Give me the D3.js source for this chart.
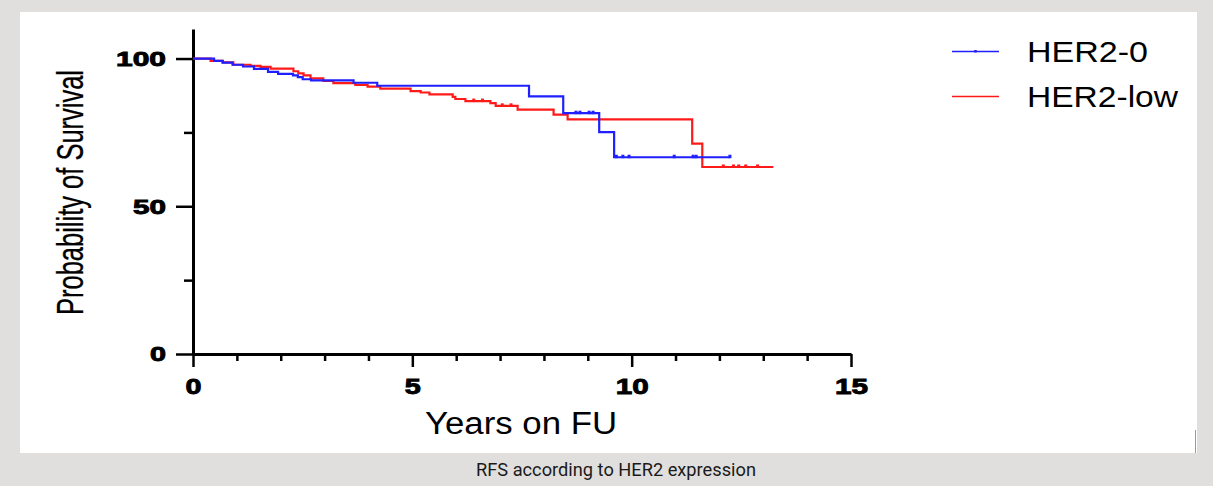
<!DOCTYPE html>
<html>
<head>
<meta charset="utf-8">
<script src="https://cdn.jsdelivr.net/npm/d3@7"></script>
<style>
  html, body { margin: 0; padding: 0; background: #e0dfdd; }
  svg { display: block; }
</style>
</head>
<body>
<svg id="chart" width="1213" height="486"></svg>
<script>
// Kaplan-Meier relapse-free survival, HER2-0 vs HER2-low
const her2zeroTimes = [0, 0.48, 0.68, 0.9, 1.14, 1.39, 1.71, 1.94, 2.28, 2.39, 2.5, 2.69, 3.66, 4.2, 7.66, 8.44, 9.26, 9.6, 12.24];
const her2zeroSurv  = [100, 99.2, 98.6, 97.9, 97.3, 96.5, 95.5, 94.8, 94.3, 93.7, 93.0, 92.6, 91.8, 90.8, 87.2, 81.5, 75.1, 66.6, 66.6];
const her2zeroCensored = [8.73, 8.82, 9.03, 9.12, 9.65, 9.8, 9.94, 10.97, 11.4, 11.47, 12.24];

const her2lowTimes = [0, 0.4, 0.67, 0.92, 1.31, 1.54, 1.77, 2.29, 2.4, 2.52, 2.68, 2.97, 3.2, 3.7, 3.98, 4.27, 4.96, 5.19, 5.39, 5.92, 5.98, 6.21, 6.78, 6.9, 7.4, 8.22, 8.54, 11.38, 11.61, 13.23];
const her2lowSurv  = [100, 99.2, 98.7, 97.9, 97.5, 97.2, 96.6, 95.7, 95.0, 94.3, 93.3, 92.4, 91.7, 91.1, 90.5, 89.8, 89.0, 88.5, 87.9, 87.0, 86.3, 85.6, 84.9, 84.0, 82.7, 81.0, 79.4, 71.2, 63.3, 63.3];
const her2lowCensored = [6.4, 6.6, 7.05, 7.25, 12.09, 12.32, 12.44, 12.6, 12.87];

const seriesNames = ["HER2-0", "HER2-low"];
const seriesColors = ["#1f1fff", "#ff1a1a"];

const xMajorTicks = [0, 5, 10, 15];
const xMinorTicks = [1, 2, 3, 4, 6, 7, 8, 9, 11, 12, 13, 14];
const yMajorTicks = [0, 50, 100];
const yMinorTicks = [25, 75];

const xTitle = "Years on FU";
const yTitle = "Probability of Survival";
const caption = "RFS according to HER2 expression";

const svg = d3.select("#chart");
const FONT = "'Liberation Sans', Arial, sans-serif";

// panel background
svg.append("rect").attr("x", 20).attr("y", 12).attr("width", 1177).attr("height", 441).attr("fill", "#ffffff");
svg.append("line").attr("x1", 1195.5).attr("x2", 1195.5).attr("y1", 430).attr("y2", 453)
  .attr("stroke", "#9a9a9a").attr("stroke-width", 1);

const x = d3.scaleLinear().domain([0, 15]).range([193, 851]);
const y = d3.scaleLinear().domain([0, 110]).range([354, 29]);

// axes
function styleAxis(g) {
  g.selectAll("path.domain").attr("stroke", "#000").attr("stroke-width", 3);
  g.selectAll(".tick line").attr("stroke", "#000").attr("stroke-width", 2.5);
}

function styleTickLabels(g, size) {
  g.selectAll(".tick text")
    .attr("font-family", FONT).attr("font-weight", "bold").attr("font-size", size)
    .attr("fill", "#000").attr("stroke", "#000").attr("stroke-width", 0.9)
    .attr("lengthAdjust", "spacingAndGlyphs")
    .attr("textLength", d => String(d).length * 17 - 1);
}

const xMinor = svg.append("g").attr("transform", `translate(0,${y(0)})`)
  .call(d3.axisBottom(x).tickValues(xMinorTicks).tickSize(7).tickSizeOuter(0).tickFormat(""));
styleAxis(xMinor);
xMinor.select("path.domain").remove();

const xMajor = svg.append("g").attr("transform", `translate(0,${y(0)})`)
  .call(d3.axisBottom(x).tickValues(xMajorTicks).tickSize(13).tickSizeOuter(0).tickPadding(11));
styleAxis(xMajor);
styleTickLabels(xMajor, 22);

const yMinor = svg.append("g").attr("transform", `translate(${x(0)},0)`)
  .call(d3.axisLeft(y).tickValues(yMinorTicks).tickSize(9).tickSizeOuter(0).tickFormat(""));
styleAxis(yMinor);
yMinor.select("path.domain").remove();

const yMajor = svg.append("g").attr("transform", `translate(${x(0)},0)`)
  .call(d3.axisLeft(y).tickValues(yMajorTicks).tickSize(17).tickSizeOuter(0).tickPadding(10));
styleAxis(yMajor);
styleTickLabels(yMajor, 21);

// survival step curves
const series = [
  { times: her2zeroTimes, surv: her2zeroSurv, censored: her2zeroCensored },
  { times: her2lowTimes, surv: her2lowSurv, censored: her2lowCensored }
];

const line = d3.line().curve(d3.curveStepAfter).x(d => x(d[0])).y(d => y(d[1]));

function survAt(s, t) {
  let v = s.surv[0];
  for (let i = 0; i < s.times.length; i++) { if (s.times[i] <= t) v = s.surv[i]; }
  return v;
}

// HER2-low drawn first so HER2-0 sits on top
[1, 0].forEach(i => {
  const s = series[i];
  const pts = s.times.map((t, k) => [t, s.surv[k]]);
  svg.append("path").attr("d", line(pts)).attr("fill", "none")
    .attr("stroke", seriesColors[i]).attr("stroke-width", 2.2);
  svg.append("g").selectAll("line").data(s.censored).join("line")
    .attr("x1", d => x(d)).attr("x2", d => x(d))
    .attr("y1", d => y(survAt(s, d)) - 2.5).attr("y2", d => y(survAt(s, d)) + 1)
    .attr("stroke", seriesColors[i]).attr("stroke-width", 3);
});

// axis titles
svg.append("text").attr("x", 521).attr("y", 434).attr("text-anchor", "middle")
  .attr("font-family", FONT).attr("font-size", 31).attr("fill", "#000")
  .attr("lengthAdjust", "spacingAndGlyphs").attr("textLength", 192)
  .text(xTitle);

svg.append("text")
  .attr("transform", "translate(83,192.5) rotate(-90) scale(1,1.46)")
  .attr("text-anchor", "middle")
  .attr("font-family", FONT).attr("font-size", 25.5).attr("fill", "#000")
  .attr("stroke", "#000").attr("stroke-width", 0.2)
  .text(yTitle);

// legend
const legend = svg.append("g");
const legendRows = [51.5, 96.5];
seriesNames.forEach((name, i) => {
  const ly = legendRows[i];
  legend.append("line").attr("x1", 952).attr("x2", 999).attr("y1", ly).attr("y2", ly)
    .attr("stroke", seriesColors[i]).attr("stroke-width", 1.6);
  if (i === 0) {
    legend.append("line").attr("x1", 975.5).attr("x2", 975.5).attr("y1", ly - 1.5).attr("y2", ly + 1)
      .attr("stroke", seriesColors[i]).attr("stroke-width", 2.5);
  }
  legend.append("text").attr("x", 1027).attr("y", ly + 10)
    .attr("font-family", FONT).attr("font-size", 30).attr("fill", "#000")
    .attr("lengthAdjust", "spacingAndGlyphs").attr("textLength", i === 0 ? 121 : 151)
    .text(name);
});

// caption
svg.append("text").attr("x", 476).attr("y", 476)
  .attr("font-family", "'Liberation Sans Narrow', 'Roboto', sans-serif").attr("font-size", 18).attr("fill", "#1a1a1a")
  .attr("lengthAdjust", "spacingAndGlyphs").attr("textLength", 280)
  .text(caption);
</script>
</body>
</html>
